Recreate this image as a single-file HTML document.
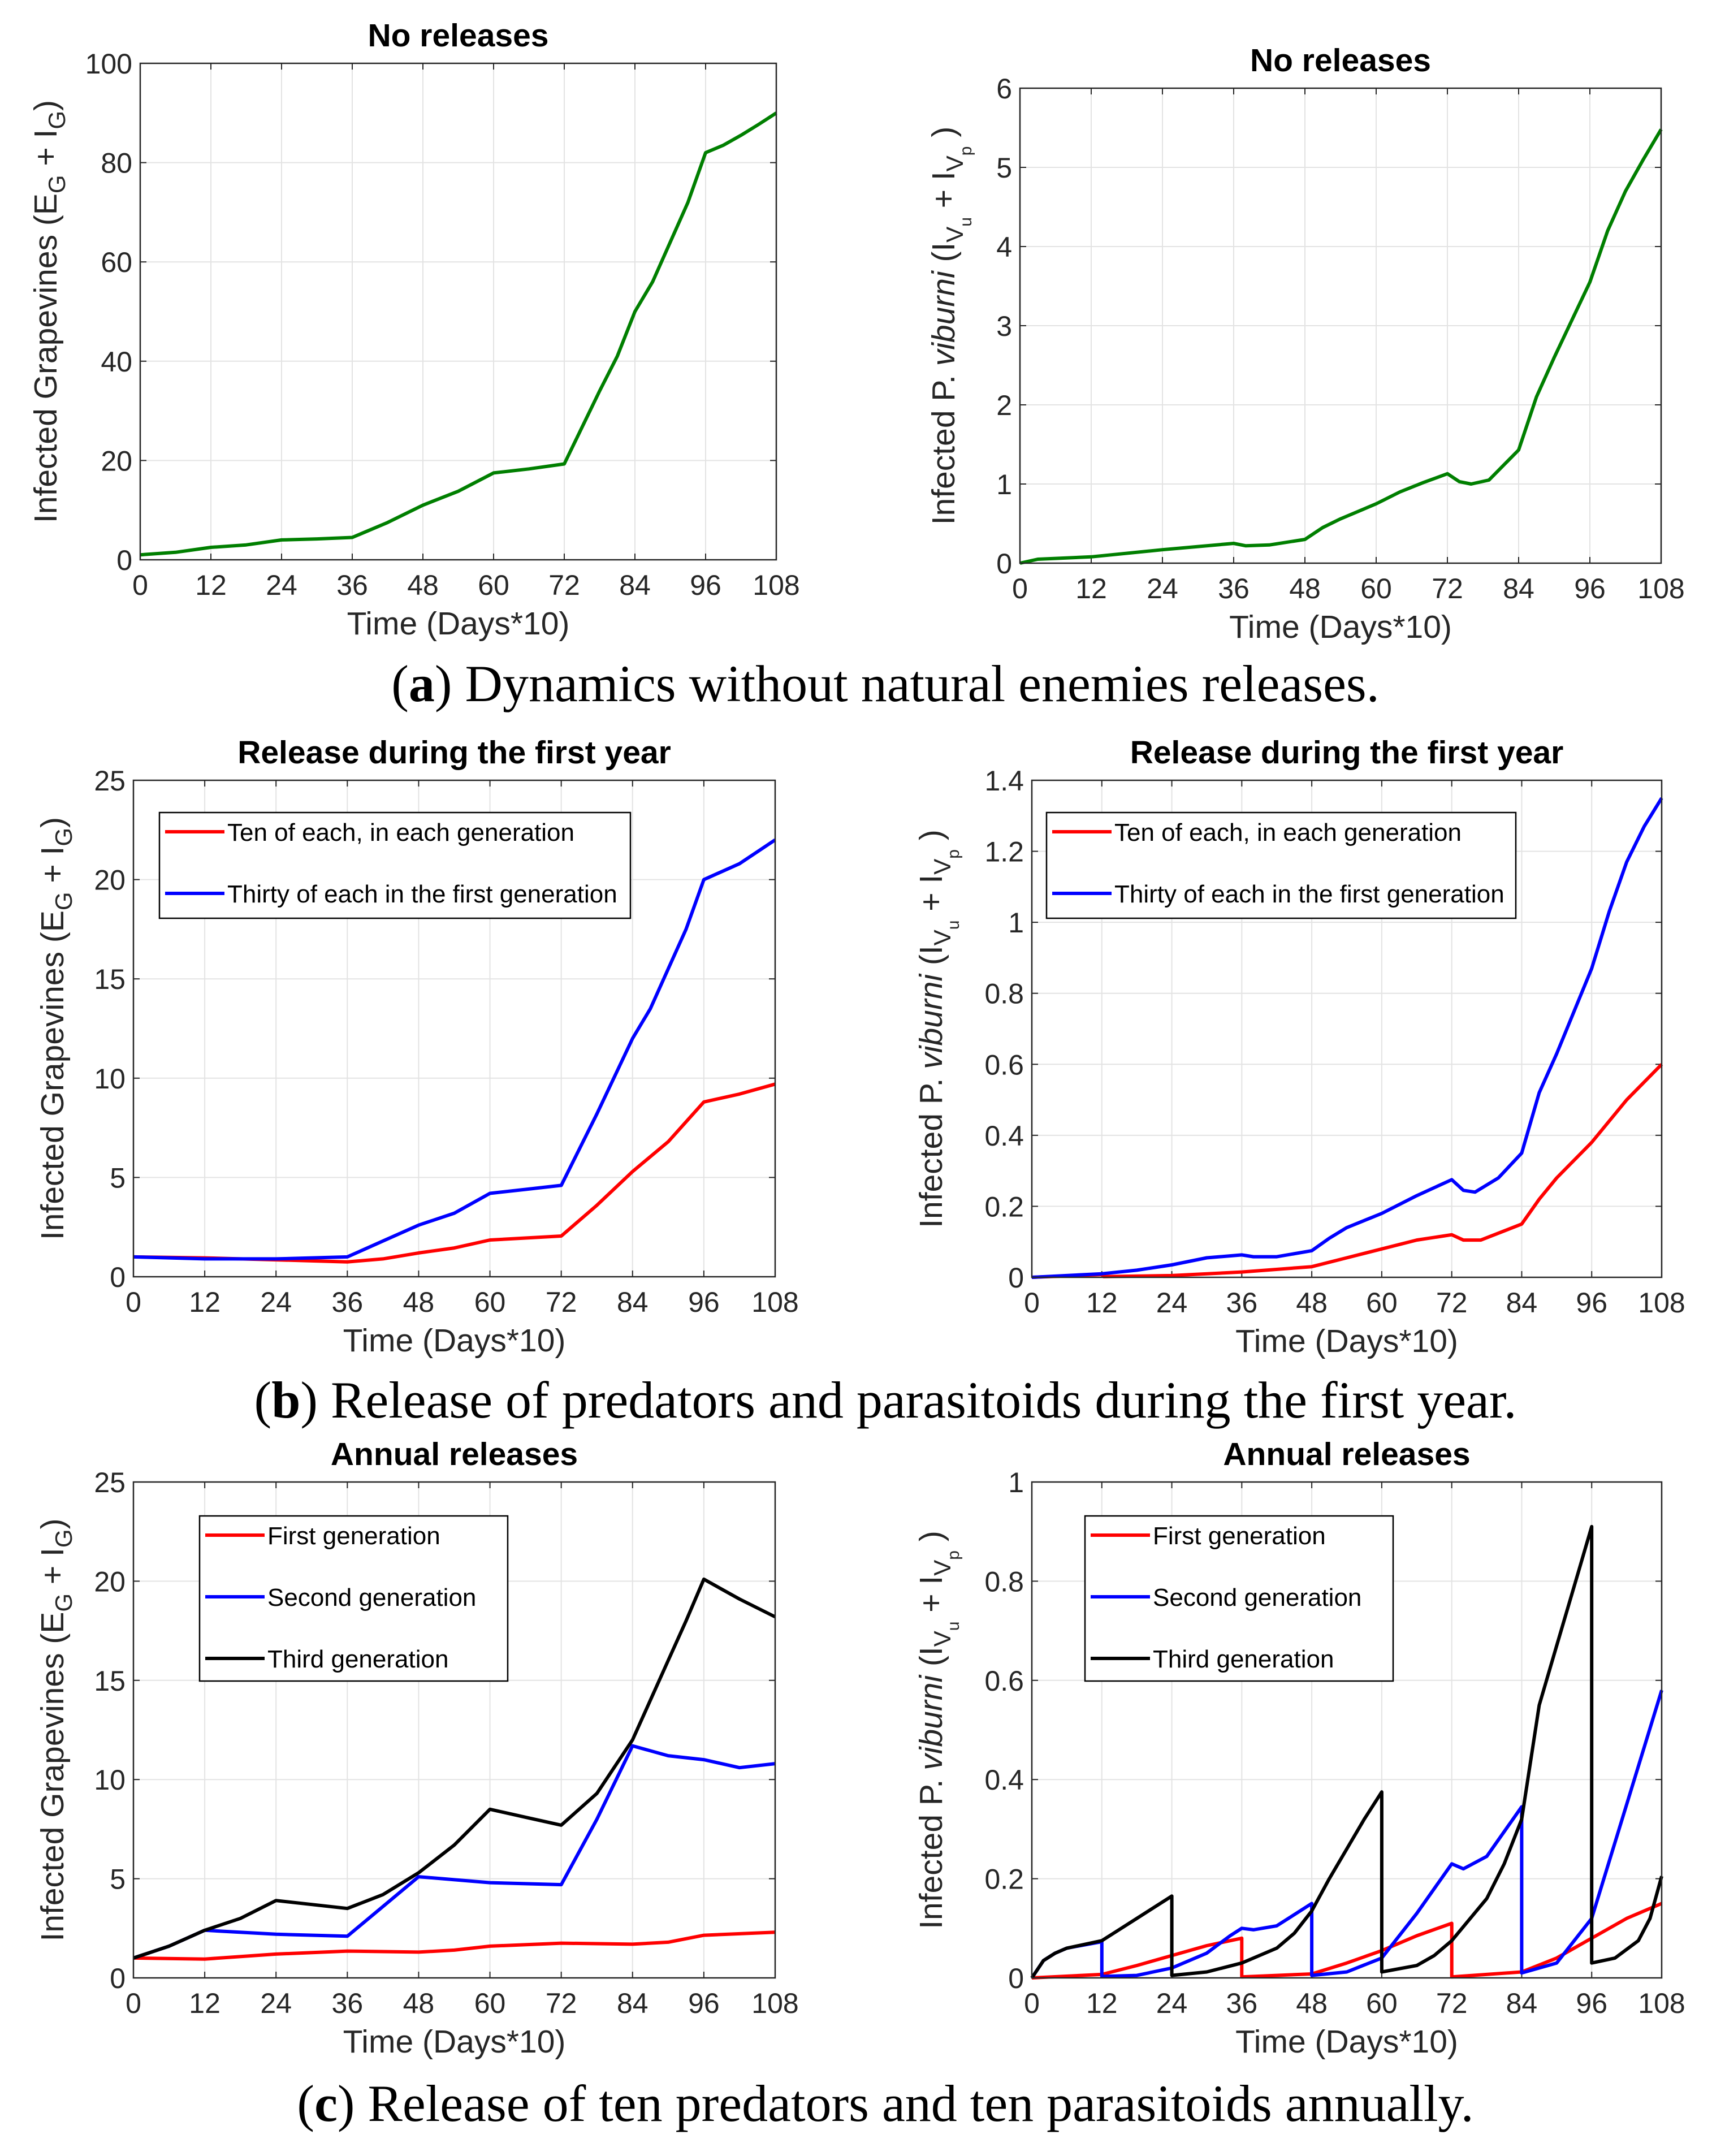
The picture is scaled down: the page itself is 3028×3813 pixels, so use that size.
<!DOCTYPE html>
<html><head><meta charset="utf-8">
<style>
html,body{margin:0;padding:0;background:#fff;}
svg{display:block;}
</style></head>
<body>
<svg id="fig" xmlns="http://www.w3.org/2000/svg" width="3028" height="3813" viewBox="0 0 3028 3813">
<rect width="3028" height="3813" fill="#fff"/>
<g id="root"></g>
</svg>
<script>
// ---- data ----
const xTicks = [0,12,24,36,48,60,72,84,96,108];
const aLeftX = [0,6,12,18,24,30,36,42,48,54,60,66,72,78,81,84,87,90,93,96,99,102,105,108];
const aLeftY = [1,1.5,2.5,3,4,4.2,4.5,7.5,11,13.8,17.5,18.3,19.3,34,41,50,56,64,72,82,83.5,85.5,87.7,90];
const aRightX = [0,3,12,24,30,36,38,42,48,51,54,60,64,68,72,74,76,79,84,87,90,96,99,102,105,108];
const aRightY = [0,0.05,0.08,0.17,0.21,0.25,0.22,0.23,0.3,0.45,0.56,0.75,0.9,1.02,1.13,1.03,1.0,1.05,1.43,2.1,2.6,3.55,4.2,4.7,5.1,5.48];
const bLeftRedX = [0,12,24,36,42,48,54,60,66,72,78,84,90,96,102,108];
const bLeftRedY = [1,0.95,0.85,0.75,0.9,1.2,1.45,1.85,1.95,2.05,3.6,5.3,6.8,8.8,9.2,9.7];
const bLeftBlueX = [0,12,24,36,42,48,54,60,66,72,78,84,87,90,93,96,102,108];
const bLeftBlueY = [1,0.9,0.9,1.0,1.8,2.6,3.2,4.2,4.4,4.6,8.2,12,13.5,15.5,17.5,20,20.8,22];
const bRightRedX = [0,12,12.3,24,36,48,54,60,66,72,74,77,84,87,90,96,102,108];
const bRightRedY = [0,0.008,0.002,0.005,0.015,0.03,0.055,0.08,0.105,0.12,0.105,0.105,0.15,0.22,0.28,0.38,0.5,0.6];
const bRightBlueX = [0,12,18,24,30,36,38,42,48,51,54,60,66,72,74,76,80,84,87,90,96,99,102,105,108];
const bRightBlueY = [0,0.01,0.02,0.035,0.055,0.063,0.058,0.058,0.075,0.11,0.14,0.18,0.23,0.275,0.245,0.24,0.28,0.35,0.52,0.63,0.87,1.03,1.17,1.27,1.35];
const cLeftRedX = [0,12,24,36,48,54,60,72,84,90,96,108];
const cLeftRedY = [1,0.95,1.2,1.35,1.3,1.4,1.6,1.75,1.7,1.8,2.15,2.3];
const cLeftBlueX = [0,6,12,24,36,42,48,60,72,78,84,90,96,102,108];
const cLeftBlueY = [1,1.6,2.4,2.2,2.1,3.6,5.1,4.8,4.7,8,11.7,11.2,11,10.6,10.8];
const cLeftBlackX = [0,6,12,18,24,30,36,42,48,54,60,66,72,78,84,87,90,93,96,102,108];
const cLeftBlackY = [1,1.6,2.4,3.0,3.9,3.7,3.5,4.2,5.3,6.7,8.5,8.1,7.7,9.3,12,14,16,18,20.1,19.1,18.2];
const cRightRedX = [0,12,18,24,30,36,36,48,54,60,66,72,72,84,90,96,102,108];
const cRightRedY = [0,0.007,0.025,0.045,0.065,0.08,0.002,0.008,0.03,0.055,0.085,0.11,0.002,0.012,0.04,0.08,0.12,0.15];
const cRightBlueX = [0,2,4,6,12,12,18,24,30,34,36,38,42,48,48,54,60,66,72,74,78,84,84,90,96,102,108];
const cRightBlueY = [0,0.035,0.05,0.06,0.073,0.003,0.005,0.02,0.05,0.085,0.1,0.097,0.105,0.15,0.005,0.012,0.04,0.13,0.23,0.22,0.245,0.345,0.01,0.03,0.12,0.35,0.58];
const cRightBlackX = [0,2,4,6,12,14,18,24,24,30,36,42,45,48,51,54,57,60,60,66,69,72,78,81,84,87,90,93,96,96,100,104,106,108];
const cRightBlackY = [0,0.035,0.05,0.06,0.075,0.09,0.12,0.165,0.005,0.012,0.03,0.06,0.09,0.135,0.2,0.26,0.32,0.375,0.012,0.025,0.045,0.075,0.16,0.23,0.32,0.55,0.67,0.79,0.91,0.03,0.04,0.075,0.12,0.205];
const yTicksA1 = [0,20,40,60,80,100];
const yTicksA2 = [0,1,2,3,4,5,6];
const yTicksB1 = [0,5,10,15,20,25];
const yTicksB2 = [0,0.2,0.4,0.6,0.8,1,1.2,1.4];
const yTicksC1 = [0,5,10,15,20,25];
const yTicksC2 = [0,0.2,0.4,0.6,0.8,1];

const NS='http://www.w3.org/2000/svg';
const root=document.getElementById('root');
function mk(tag,attrs,parent){const e=document.createElementNS(NS,tag);for(const k in attrs)e.setAttribute(k,attrs[k]);(parent||root).appendChild(e);return e;}
const TXT='#262626';

function panel(cfg){
  const g=mk('g',{});
  
  
  const {L,R,T,B,ymax}=cfg;
  const sx=v=>L+(v/108)*(R-L);
  const sy=v=>B-(v/ymax)*(B-T);
  for(const t of xTicks){ if(t>0&&t<108){const ln=mk('line',{x1:sx(t),x2:sx(t),y1:T,y2:B,stroke:'#e3e3e3','stroke-width':2},g);
    
    }}
  for(const t of cfg.yTicks){ if(t>0&&t<ymax){const ln=mk('line',{x1:L,x2:R,y1:sy(t),y2:sy(t),stroke:'#e3e3e3','stroke-width':2},g);
    
    }}
  for(const t of xTicks){
    mk('line',{x1:sx(t),x2:sx(t),y1:B,y2:B-11,stroke:TXT,'stroke-width':2},g);
    mk('line',{x1:sx(t),x2:sx(t),y1:T,y2:T+11,stroke:TXT,'stroke-width':2},g);
    const tx=mk('text',{x:sx(t),y:B+62,'text-anchor':'middle','font-size':50,fill:TXT,'font-family':'Liberation Sans, sans-serif'},g);
    tx.textContent=t;
    
    
  }
  for(const t of cfg.yTicks){
    mk('line',{x1:L,x2:L+11,y1:sy(t),y2:sy(t),stroke:TXT,'stroke-width':2},g);
    mk('line',{x1:R,x2:R-11,y1:sy(t),y2:sy(t),stroke:TXT,'stroke-width':2},g);
    const ty=mk('text',{x:L-14,y:sy(t)+18,'text-anchor':'end','font-size':50,fill:TXT,'font-family':'Liberation Sans, sans-serif'},g);
    ty.textContent=t;
    
    
  }
  for(const s of cfg.series){
    let d='';
    for(let i=0;i<s.x.length;i++) d+=(i?'L':'M')+sx(s.x[i]).toFixed(1)+','+sy(s.y[i]).toFixed(1);
    const p=mk('path',{d:d,fill:'none',stroke:s.color,'stroke-width':6,'stroke-linejoin':'round'},g);
    
    
  }
  const bx=mk('rect',{x:L,y:T,width:R-L,height:B-T,fill:'none',stroke:TXT,'stroke-width':2.5},g);
  
  
  const ti=mk('text',{x:(L+R)/2,y:T-30,'text-anchor':'middle','font-size':57,'font-weight':'bold',fill:'#000','font-family':'Liberation Sans, sans-serif'},g);
  ti.textContent=cfg.title;
  
  
  const xl=mk('text',{x:(L+R)/2,y:B+132,'text-anchor':'middle','font-size':57,fill:TXT,'font-family':'Liberation Sans, sans-serif'},g);
  xl.textContent='Time (Days*10)';
  
  
  const yl=mk('text',{transform:`translate(${cfg.ylx},${(T+B)/2}) rotate(-90)`,'text-anchor':'middle','font-size':57,fill:TXT,'font-family':'Liberation Sans, sans-serif'},g);
  
  
  if(cfg.ykind==='G'){
    yl.innerHTML='Infected Grapevines (E<tspan font-size="42" dy="15">G</tspan><tspan dy="-15"> + I</tspan><tspan font-size="42" dy="15">G</tspan><tspan dy="-15">)</tspan>';
  } else {
    yl.innerHTML='Infected P. <tspan font-style="italic">viburni</tspan> (I<tspan font-size="42" dy="15">V</tspan><tspan font-size="30" dy="15">u</tspan><tspan dy="-30"> + I</tspan><tspan font-size="42" dy="15">V</tspan><tspan font-size="30" dy="15">p</tspan><tspan dy="-30"> )</tspan>';
  }
  if(cfg.legend){
    const lg=cfg.legend;
    const lgG=mk('g',{},g);
    
    
    mk('rect',{x:lg.x,y:lg.y,width:lg.w,height:lg.h,fill:'#fff',stroke:'#000','stroke-width':2.5},lgG);
    lg.items.forEach((it,i)=>{
      const yy=lg.y+lg.first+i*lg.step;
      const eg=mk('g',{},lgG);
      
      
      mk('line',{x1:lg.x+10,x2:lg.x+115,y1:yy,y2:yy,stroke:it[1],'stroke-width':6},eg);
      const t=mk('text',{x:lg.x+120,y:yy+16,'font-size':44,fill:'#000','font-family':'Liberation Sans, sans-serif'},eg);
      t.textContent=it[0];
    });
  }
}

panel({name:'chart-a-grapevines',L:248,R:1373,T:112,B:990,ymax:100,yTicks:yTicksA1,title:'No releases',ylx:100,ykind:'G',
  series:[{name:'line-no-release',x:aLeftX,y:aLeftY,color:'#007f00'}]});
panel({name:'chart-a-viburni',L:1804,R:2938,T:156,B:996,ymax:6,yTicks:yTicksA2,title:'No releases',ylx:1688,ykind:'V',
  series:[{name:'line-no-release',x:aRightX,y:aRightY,color:'#007f00'}]});
const legB={x:282,y:1437,w:833,h:187,first:34,step:109,items:[['Ten of each, in each generation','#ff0000'],['Thirty of each in the first generation','#0000ff']]};
panel({name:'chart-b-grapevines',L:236,R:1371,T:1380,B:2258,ymax:25,yTicks:yTicksB1,title:'Release during the first year',ylx:112,ykind:'G',legend:legB,
  series:[{name:'line-ten-each',x:bLeftRedX,y:bLeftRedY,color:'#ff0000'},{name:'line-thirty-first',x:bLeftBlueX,y:bLeftBlueY,color:'#0000ff'}]});
panel({name:'chart-b-viburni',L:1825,R:2939,T:1380,B:2259,ymax:1.4,yTicks:yTicksB2,title:'Release during the first year',ylx:1666,ykind:'V',
  legend:Object.assign({},legB,{x:1851,w:830}),
  series:[{name:'line-ten-each',x:bRightRedX,y:bRightRedY,color:'#ff0000'},{name:'line-thirty-first',x:bRightBlueX,y:bRightBlueY,color:'#0000ff'}]});
const legC={x:353,y:2681,w:545,h:292,first:34,step:109,items:[['First generation','#ff0000'],['Second generation','#0000ff'],['Third generation','#000000']]};
panel({name:'chart-c-grapevines',L:236,R:1371,T:2621,B:3498,ymax:25,yTicks:yTicksC1,title:'Annual releases',ylx:112,ykind:'G',legend:legC,
  series:[{name:'line-first-gen',x:cLeftRedX,y:cLeftRedY,color:'#ff0000'},{name:'line-second-gen',x:cLeftBlueX,y:cLeftBlueY,color:'#0000ff'},{name:'line-third-gen',x:cLeftBlackX,y:cLeftBlackY,color:'#000000'}]});
panel({name:'chart-c-viburni',L:1825,R:2939,T:2621,B:3498,ymax:1,yTicks:yTicksC2,title:'Annual releases',ylx:1666,ykind:'V',
  legend:Object.assign({},legC,{x:1919,w:545}),
  series:[{name:'line-first-gen',x:cRightRedX,y:cRightRedY,color:'#ff0000'},{name:'line-second-gen',x:cRightBlueX,y:cRightBlueY,color:'#0000ff'},{name:'line-third-gen',x:cRightBlackX,y:cRightBlackY,color:'#000000'}]});

const caps=[[1212,'a','Dynamics without natural enemies releases.'],[2479,'b','Release of predators and parasitoids during the first year.'],[3723,'c','Release of ten predators and ten parasitoids annually.']];
for(const c of caps){
  const t=mk('text',{x:1566,y:c[0]+28,'text-anchor':'middle','font-size':92,fill:'#000','font-family':'Liberation Serif, serif'});
  
  
  t.innerHTML='(<tspan font-weight="bold">'+c[1]+'</tspan>) '+c[2];
}
</script>
</body></html>
